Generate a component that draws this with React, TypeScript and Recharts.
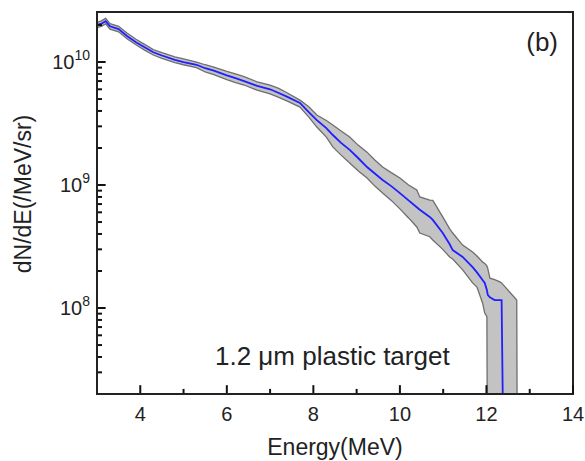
import { ComposedChart, Line, Area, XAxis, YAxis, ReferenceArea, ReferenceLine } from 'recharts';

const energy = [
  3.0, 3.1, 3.2, 3.3, 3.5, 3.7, 3.9, 4.1, 4.3, 4.5, 4.8, 5.0, 5.3, 5.5, 5.7, 6.0, 6.2, 6.4, 6.7, 7.0,
  7.2, 7.4, 7.69, 7.9, 8.08, 8.3, 8.45, 8.64, 8.84, 9.04, 9.24, 9.42, 9.6, 9.8, 10.0, 10.2, 10.39,
  10.46, 10.69, 10.76, 10.99, 11.15, 11.22, 11.45, 11.68, 11.78, 11.91, 11.96, 12.01, 12.03, 12.08,
  12.19, 12.31, 12.35, 12.42, 12.7, 12.72,
];

const meanYield = [
  2.0e10, 2.05e10, 2.15e10, 1.95e10, 1.85e10, 1.62e10, 1.45e10, 1.32e10, 1.2e10, 1.13e10, 1.04e10,
  1.0e10, 9.5e9, 8.9e9, 8.5e9, 7.8e9, 7.4e9, 7.0e9, 6.4e9, 6.0e9, 5.6e9, 5.2e9, 4.65e9, 3.9e9,
  3.37e9, 2.9e9, 2.55e9, 2.2e9, 1.93e9, 1.65e9, 1.4e9, 1.24e9, 1.1e9, 9.8e8, 8.6e8, 7.5e8, 6.6e8,
  6.3e8, 5.5e8, 5.2e8, 4.07e8, 3.3e8, 2.96e8, 2.6e8, 2.15e8, 1.95e8, 1.69e8, 1.6e8, 1.4e8, 1.28e8,
  1.22e8, 1.16e8, 1.16e8, 1.16e8, 1e6, null, null,
];

const lowerYield = [
  1.9e10, 1.95e10, 2.04e10, 1.85e10, 1.76e10, 1.54e10, 1.38e10, 1.25e10, 1.14e10, 1.07e10, 9.9e9,
  9.5e9, 9.0e9, 8.3e9, 7.9e9, 7.2e9, 6.8e9, 6.5e9, 5.9e9, 5.5e9, 5.15e9, 4.8e9, 4.3e9, 3.55e9,
  2.96e9, 2.45e9, 2.04e9, 1.75e9, 1.51e9, 1.3e9, 1.14e9, 9.8e8, 8.6e8, 7.5e8, 6.4e8, 5.4e8, 4.56e8,
  4.07e8, 3.8e8, 3.57e8, 3.0e8, 2.6e8, 2.5e8, 2.04e8, 1.6e8, 1.48e8, 1.1e8, 9.1e7, 8.5e7, 1e6,
  1e6, 1e6, 1e6, 1e6, 1e6, 1e6, 1e6,
];

const upperYield = [
  2.1e10, 2.16e10, 2.26e10, 2.05e10, 1.95e10, 1.71e10, 1.53e10, 1.39e10, 1.26e10, 1.19e10, 1.1e10,
  1.06e10, 1.0e10, 9.5e9, 9.1e9, 8.4e9, 8.0e9, 7.6e9, 6.9e9, 6.5e9, 6.1e9, 5.6e9, 4.9e9, 4.3e9,
  3.71e9, 3.35e9, 3.07e9, 2.75e9, 2.46e9, 2.1e9, 1.85e9, 1.6e9, 1.4e9, 1.26e9, 1.14e9, 1.0e9, 9.1e8,
  8.0e8, 7.55e8, 7.5e8, 5.5e8, 4.4e8, 4.07e8, 3.25e8, 2.85e8, 2.65e8, 2.37e8, 2.3e8, 2.2e8, 2.1e8,
  1.75e8, 1.7e8, 1.63e8, 1.6e8, 1.5e8, 1.16e8, 1e6,
];

const xMajorTicks = [4, 6, 8, 10, 12, 14];
const xMinorTicks = [5, 7, 9, 11, 13];
const yMajorTicks = [1e8, 1e9, 1e10];
const yMinorTicks = [
  3e7, 4e7, 5e7, 6e7, 7e7, 8e7, 9e7,
  2e8, 3e8, 4e8, 5e8, 6e8, 7e8, 8e8, 9e8,
  2e9, 3e9, 4e9, 5e9, 6e9, 7e9, 8e9, 9e9,
  2e10,
];

const data = energy.map((e, i) => ({
  energy: e,
  mean: meanYield[i],
  band: [lowerYield[i], upperYield[i]],
}));

const X_MIN = 3;
const X_MAX = 14;
const Y_MIN = 2e7;
const Y_MAX = 2.55e10;
const PLOT_BOTTOM = 394;
const FONT = '"Liberation Sans", Arial, sans-serif';
const AXIS = '#222';

// inward tick lengths, in axis units (roughly 9px / 5px)
const X_TICK_MAJOR = 1.18;
const X_TICK_MINOR = 1.1;
const Y_TICK_MAJOR = 0.2;
const Y_TICK_MINOR = 0.115;

function XLabel({ x, payload }: any) {
  return (
    <text x={x} y={PLOT_BOTTOM + 27} textAnchor="middle" fontSize={20} fill="#222" fontFamily={FONT}>
      {payload.value}
    </text>
  );
}

function YLabel({ y, payload }: any) {
  const exp = Math.round(Math.log10(payload.value));
  return (
    <text x={90} y={y + 7} textAnchor="end" fontSize={20} fill="#222" fontFamily={FONT}>
      <tspan>10</tspan>
      <tspan dy={-9} fontSize={14}>{exp}</tspan>
    </text>
  );
}

export default function App() {
  return (
    <div style={{ position: 'absolute', left: 0, top: 0, width: 585, height: 461, background: '#fff' }}>
      <ComposedChart width={585} height={461} data={data} margin={{ top: 12, right: 12, bottom: 27, left: 37 }}>
        <XAxis
          dataKey="energy"
          type="number"
          domain={[X_MIN, X_MAX]}
          ticks={xMajorTicks}
          interval={0}
          allowDataOverflow
          height={40}
          tickLine={false}
          tick={XLabel}
          stroke={AXIS}
          strokeWidth={2}
        />
        <YAxis
          scale="log"
          domain={[Y_MIN, Y_MAX]}
          ticks={yMajorTicks}
          interval={0}
          allowDataOverflow
          width={60}
          tickLine={false}
          tick={YLabel}
          stroke={AXIS}
          strokeWidth={2}
        />
        <Area
          dataKey="band"
          type="linear"
          fill="#c3c3c3"
          fillOpacity={1}
          stroke="#6e6e6e"
          strokeWidth={1.3}
          isAnimationActive={false}
        />
        <Line
          dataKey="mean"
          type="linear"
          stroke="#1f1fff"
          strokeWidth={1.8}
          dot={false}
          activeDot={false}
          isAnimationActive={false}
        />
        {[...xMajorTicks, ...xMinorTicks].map((t) => (
          <ReferenceLine
            key={`xt${t}`}
            segment={[
              { x: t, y: Y_MIN },
              { x: t, y: Y_MIN * (xMajorTicks.includes(t) ? X_TICK_MAJOR : X_TICK_MINOR) },
            ]}
            stroke="#111"
            strokeWidth={2}
            ifOverflow="visible"
          />
        ))}
        {[...yMajorTicks, ...yMinorTicks].map((t) => (
          <ReferenceLine
            key={`yt${t}`}
            segment={[
              { x: X_MIN, y: t },
              { x: X_MIN + (yMajorTicks.includes(t) ? Y_TICK_MAJOR : Y_TICK_MINOR), y: t },
            ]}
            stroke="#111"
            strokeWidth={2}
            ifOverflow="visible"
          />
        ))}
        <ReferenceArea
          x1={X_MIN}
          x2={X_MAX}
          y1={Y_MIN}
          y2={Y_MAX}
          fill="none"
          fillOpacity={0}
          stroke={AXIS}
          strokeWidth={2}
          ifOverflow="visible"
        />
      </ComposedChart>
      <svg width={585} height={461} style={{ position: 'absolute', left: 0, top: 0, pointerEvents: 'none' }}>
        <text x={558} y={51} textAnchor="end" fontSize={26} fill="#222" fontFamily={FONT}>(b)</text>
        <text x={215} y={365} fontSize={26} fill="#222" fontFamily={FONT}>1.2 μm plastic target</text>
        <text x={335} y={455} textAnchor="middle" fontSize={23} fill="#222" fontFamily={FONT}>Energy(MeV)</text>
        <text
          x={0}
          y={0}
          transform="translate(31,194) rotate(-90)"
          textAnchor="middle"
          fontSize={23}
          fill="#222"
          fontFamily={FONT}
        >
          dN/dE(/MeV/sr)
        </text>
      </svg>
    </div>
  );
}
